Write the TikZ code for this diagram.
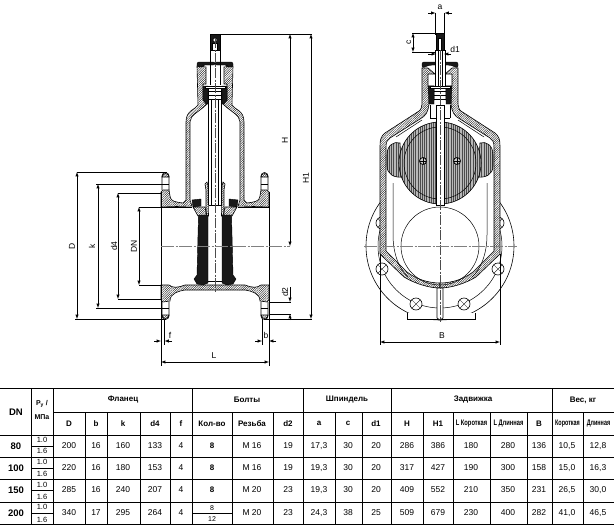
\documentclass[tikz,border=0pt]{standalone}
\usepackage{fontspec}
\setmainfont{Liberation Sans}
\usetikzlibrary{patterns.meta}
\tikzstyle{outline} = [draw, line width=0.6pt, fill=white]
\tikzstyle{hatch} = [draw, line width=0.6pt, pattern={Lines[angle=45,distance=1.6pt,line width=0.35pt]}, pattern color=black]
\tikzstyle{solid} = [draw, fill=black!90]
\tikzstyle{stripes} = [draw, line width=0.6pt, preaction={fill=black!28}, pattern={Lines[angle=90,distance=2.2pt,line width=0.7pt]}, pattern color=black!70]
\tikzstyle{thinline} = [draw, line width=0.5pt]
\tikzstyle{dimline} = [draw, line width=0.5pt, latex-latex]
\tikzstyle{arrow} = [draw, line width=0.5pt, -latex]
\tikzstyle{axisline} = [draw, line width=0.9pt, black!50, dash pattern=on 13pt off 1.5pt on 2pt off 1.5pt]
\tikzstyle{axisthin} = [draw, line width=0.4pt, black!70, dash pattern=on 10pt off 1.5pt on 2pt off 1.5pt]
\tikzstyle{rule} = [draw, line width=0.7pt]
\tikzstyle{dimtext} = [inner sep=0pt, font=\fontsize{8.5}{10}\selectfont]
\tikzstyle{dimtextR} = [dimtext, rotate=90]
\tikzstyle{head} = [inner sep=0pt, font=\fontsize{8}{9}\selectfont\bfseries]
\tikzstyle{headS} = [inner sep=0pt, font=\fontsize{7}{8}\selectfont\bfseries]
\tikzstyle{dncell} = [inner sep=0pt, font=\fontsize{9.5}{10}\selectfont\bfseries]
\tikzstyle{numcell} = [inner sep=0pt, font=\fontsize{8.5}{10}\selectfont]
\tikzstyle{smallcell} = [inner sep=0pt, font=\fontsize{7.5}{9}\selectfont]
\begin{document}
\begin{tikzpicture}[x=1pt, y=-1pt]
    \useasboundingbox (0,0) rectangle (614,525);

    % side view, section
    \foreach \m in {1,-1} {
    \begin{scope}[shift={(215,0)}, xscale=\m]
        % bolts on the flange
        \path [outline] (-53,190) -- (-53,176) arc (180:360:3.5) -- (-46,190);
        \path [hatch] (-53,177) arc (180:360:3.5) -- cycle;
        \path [thinline] (-53,184) -- (-46,184);
        \path [outline] (-53,302) -- (-53,316) arc (180:0:3.5) -- (-46,302);
        \path [hatch] (-53,315) arc (180:0:3.5) -- cycle;
        \path [thinline] (-53,308) -- (-46,308);
        % bonnet wall
        \path [hatch] (-18,66) -- (-17,105) .. controls (-20,110) and (-29,110) .. (-29,122) -- (-29,200)
            -- (-32,203) .. controls (-38,202) and (-45,202) .. (-45,196) -- (-46,190) -- (-52,190) -- (-54,192) -- (-54,207)
            -- (-23,206) -- (-25,200) -- (-25,122) .. controls (-25,115) and (-16,112) .. (-8,104) -- (-8,100)
            -- (-12,100) -- (-12,84) -- (-9,84) -- (-9,67) -- cycle;
        % cap and gland
        \path [solid, rounded corners=2pt] (-18,67) -- (-18,62) -- (0,62) -- (0,65) -- (-12,65) -- (-12,67) -- cycle;
        \path [solid] (-12,86) -- (-7,86) -- (-7,104) -- (-9,104) -- (-12,100) -- cycle;
        % body floor
        \path [hatch] (0,290) -- (-30,290) .. controls (-36,291) and (-45,293) .. (-45,301) -- (-52,302) -- (-54,300)
            -- (-54,285) -- (-46,285) .. controls (-42,288) and (-38,288) .. (-30,285) -- (0,285);
        % gate
        \path [solid] (-23,200) -- (-14,199) -- (-14,206) -- (-22,207) -- cycle;
        \path [hatch] (-22,207) -- (-10,207) -- (-8,216) -- (-17,216) -- cycle;
        \path [hatch] (-10,184) -- (-8,182) -- (-7,186) -- (-6.5,216) -- (-9,216) -- (-9,190) -- cycle;
        \path [solid] (-16.5,215) -- (-7,215) -- (-7,283) -- (-12,285) -- (-18,284) -- (-21,279) -- (-18,275) -- cycle;
        % spindle
        \path [thinline, line width=1pt] (-6.5,88) -- (-6.5,205);
        \path [thinline] (-3.5,100) -- (-3.5,205);
        \path [thinline] (-5,50) -- (-5,85);
        % bore
        \path [thinline] (-54,207) -- (-23,207);
        % face of flange and dimension stops
        \path [thinline] (-54,192) -- (-54,366);
    \end{scope}
    }
    \path [thinline] (208.5,205) -- (221.5,205);
    \path [thinline] (208,281) -- (222,281);
    \path [outline] (205,86) rectangle (225,88);
    \foreach \yy in {91,95,99} \path [thinline] (209,\yy) -- (221,\yy);
    % head of spindle
    \path [solid] (210,34) rectangle (220,50);
    \path [outline] (212.5,43) rectangle (217.5,50);
    \path [outline] (215,40) circle (2);
    \path [axisthin] (215,38) -- (215,293);
    \path [axisline] (161,246) -- (290,246);

    % end view, flange behind the body
    \path [draw, line width=0.6pt] (440,246) circle (74);
    \path [thinline] (440,246) circle (62);
    \foreach \bx/\by in {382/223,498/223,382/269,498/269,416/304,464/304} {
        \path [outline] (\bx,\by) circle (6);
        \path [draw, line width=0.35pt] (\bx-4,\by+4) -- (\bx+4,\by-4) (\bx-4,\by-4) -- (\bx+4,\by+4);
    }
    \path [outline] (407,313) -- (407,319) -- (475,319) -- (475,313);
    \foreach \m in {1,-1} {
    \begin{scope}[shift={(440,0)}, xscale=\m]
        % inside of the body
        \path [fill=white] (-60,146) -- (-60,254) -- (-36,277) .. controls (-26,283) and (-12,288) .. (0,288) -- (0,112) -- (-24,113) -- (-55,133) -- cycle;
    \end{scope}
    }
    \path [thinline] (440,246) circle (39);
    \foreach \m in {1,-1} {
    \begin{scope}[shift={(440,0)}, xscale=\m]
        % gate with lugs
        \path [stripes] (-40,143) .. controls (-46,141) and (-53,145) .. (-53,155) -- (-53,166)
            .. controls (-53,174) and (-46,178) .. (-38,177) -- cycle;
        % guide
        \path [thinline] (-47,183) -- (-47,235) .. controls (-47,255) and (-40,270) .. (-32,277);
        \path [thinline] (-44,137) -- (-18,120);
        % body wall
        \path [hatch] (-18,68) -- (-18,104) .. controls (-19,110) .. (-24,113) -- (-55,133)
            .. controls (-59,136) and (-60,140) .. (-60,146) -- (-60,254) -- (-36,277)
            .. controls (-26,283) and (-12,288) .. (0,288) -- (0,283) .. controls (-12,283) and (-24,279) .. (-33,272)
            -- (-54,251) -- (-54,148) .. controls (-54,142) and (-53,140) .. (-50,138) -- (-20,119)
            .. controls (-14,116) and (-12,112) .. (-11,104) -- (-11,100) -- (-6,100) -- (-6,86) -- (-12,86) -- (-12,74) -- (-5,74) -- (-12,68) -- cycle;
        \path [solid, rounded corners=2pt] (-18,68) -- (-18,62) -- (0,62) -- (0,65) -- (-10,65) -- cycle;
        \path [solid] (-12,86) -- (-6,86) -- (-6,104) -- (-11,104) -- cycle;
        % neck
        \path [thinline] (-10,105) -- (-10,118);
        \path [thinline] (-5,50) -- (-5,86);
    \end{scope}
    }
    % spindle, end view
    \path [outline] (435,50) rectangle (445,86);
    \path [thinline] (438,50) -- (438,86) (442,50) -- (442,86);
    \path [solid] (436,33) rectangle (444,50);
    \path [outline] (438.5,38) -- (438.5,50) -- (441.5,50) -- (441.5,38) -- cycle;
    \path [outline] (430,86) rectangle (450,88);
    \foreach \yy in {91,95,99} \path [thinline] (434,\yy) -- (446,\yy);
    \path [thinline] (430,118) -- (450,118);
    % disc
    \path [stripes] (440,163) circle (41);
    \path [thinline] (440,163) circle (36);
    \path [outline] (436,105) rectangle (444,205);
    \path [draw, line width=0.8pt, dash pattern=on 1pt off 1pt] (436,118) -- (436,205) (444,118) -- (444,205);
    \foreach \bx in {423,457} {
        \path [draw, fill=black!20, line width=0.8pt] (\bx,161) circle (3.5);
        \path [thinline] (\bx-3,161) -- (\bx+3,161) (\bx,158) -- (\bx,164);
    }
    % rib
    \path [outline] (437,288) -- (437,318) -- (440,320) -- (443,318) -- (443,288) -- cycle;
    \path [axisthin] (440,50) -- (440,322);
    \path [axisline] (364,246) -- (517,246);

    % dimensions, side view
    \coordinate (topH) at (220,34);
    \coordinate (endH) at (312,34);
    \path [thinline] (topH) -- (endH);
    \path [dimline] (290,34) -- (290,246);
    \path [dimline] (311,34) -- (311,319);
    \path [thinline] (75,319) -- (166,319) (264,319) -- (312,319);
    \path [thinline] (77,172) -- (167,172);
    \path [dimline] (77,172) -- (77,319);
    \path [thinline] (96,184) -- (167,184) (96,308) -- (167,308);
    \path [dimline] (98,184) -- (98,308);
    \path [thinline] (118,193) -- (161,193) (118,299) -- (161,299);
    \path [dimline] (118,193) -- (118,299);
    \path [thinline] (139,207) -- (161,207) (139,285) -- (161,285);
    \path [dimline] (139,207) -- (139,285);
    \path [thinline] (270,302) -- (291,302) (270,314) -- (291,314);
    \path [arrow] (290,287) -- (290,302);
    \path [arrow] (290,320) -- (290,314);
    \path [thinline] (164.5,319) -- (164.5,345) (262,319) -- (262,345);
    \path [dimline] (161,362) -- (269,362);
    \path [arrow] (154,341) -- (161,341);
    \path [arrow] (172,341) -- (164.5,341);
    \path [arrow] (255,341) -- (262,341);
    \path [arrow] (276,341) -- (269,341);
    \node [dimtextR] (lblD) at (72,246) {D};
    \node [dimtextR] (lblk) at (92,246) {k};
    \node [dimtextR] (lbldf) at (114,246) {d4};
    \node [dimtextR] (lblDN) at (134,246) {DN};
    \node [dimtextR] (lblH) at (285,140) {H};
    \node [dimtextR] (lblHo) at (306,178) {H1};
    \node [dimtextR] (lbldt) at (285,292) {d2};
    \node [dimtext] (lblf) at (170,335) {f};
    \node [dimtext] (lblb) at (266,335) {b};
    \node [dimtext] (lblL) at (214,356) {L};

    % dimensions, end view
    \path [thinline] (435.5,13) -- (435.5,35) (444.5,13) -- (444.5,35);
    \path [arrow] (428,13) -- (435.5,13);
    \path [arrow] (452,13) -- (444.5,13);
    \path [thinline] (412,33) -- (437,33) (412,52) -- (436,52);
    \path [dimline] (413,33) -- (413,52);
    \path [arrow] (428,54) -- (436,54);
    \path [arrow] (451,54) -- (444,54);
    \path [thinline] (380,254) -- (380,345) (500,254) -- (500,345);
    \path [dimline] (380,342) -- (500,342);
    \node [dimtext] (lbla) at (440,7) {a};
    \node [dimtextR] (lblc) at (409,42) {c};
    \node [dimtext] (lbldo) at (455,49) {d1};
    \node [dimtext] (lblB) at (442,336) {B};

    % table rules
    \foreach \yy in {388,435,457,479,502,524} \path [rule] (0,\yy) -- (614,\yy);
    \path [rule] (53,412) -- (614,412);
    \foreach \xx in {31,53,192,303,391,552} \path [rule] (\xx,388) -- (\xx,524);
    \foreach \xx in {85,107,140,170,232,273,335,362,423,453,490,527,583} \path [rule] (\xx,412) -- (\xx,524);
    \foreach \yy in {446,468,490,513} \path [rule] (31,\yy) -- (53,\yy);
    \path [rule] (192,513) -- (232,513);

    % table head
    \node [dncell] (hDN) at (16,412) {DN};
    \node [headS] (hPy) at (42,404) {P\textsubscript{y} /};
    \node [headS] (hMPa) at (42,417) {МПа};
    \foreach \xx/\tx in {123/Фланец,247/Болты,347/Шпиндель,473/Задвижка,583/{Вес, кг}}
        \node [head] (top\xx) at (\xx,400) {\tx};
    \foreach \xx/\tx in {69/D,96/b,123/k,155/d4,181/f,212/Кол-во,252/Резьба,288/d2,319/a,348/c,376/d1,407/H,438/H1,539/B}
        \node [head] (sub\xx) at (\xx,423.5) {\tx};
    \node [head] (subLK) at (471.5,423.5) {\scalebox{0.72}[1]{L Короткая}};
    \node [head] (subLD) at (508.5,423.5) {\scalebox{0.72}[1]{L Длинная}};
    \node [head] (subVK) at (567.5,423.5) {\scalebox{0.68}[1]{Короткая}};
    \node [head] (subVD) at (598.5,423.5) {\scalebox{0.68}[1]{Длинная}};

    % table rows
    \foreach \dn/\ya/\yc/\yb in {80/440/446/451, 100/462/468/474, 150/485/490/497, 200/507/513/520} {
        \node [dncell] (dn\dn) at (16,\yc) {\dn};
        \node [smallcell] (pa\dn) at (42,\ya) {1.0};
        \node [smallcell] (pb\dn) at (42,\yb) {1.6};
    }
    \foreach \xx/\tx in {69/200,96/16,123/160,155/133,181/4,252/M 16,288/19,319/{17,3},348/30,376/20,407/286,438/386,471/180,508/280,539/136,567/{10,5},598/{12,8}}
        \node [numcell] (a\xx) at (\xx,446) {\tx};
    \foreach \xx/\tx in {69/220,96/16,123/180,155/153,181/4,252/M 16,288/19,319/{19,3},348/30,376/20,407/317,438/427,471/190,508/300,539/158,567/{15,0},598/{16,3}}
        \node [numcell] (b\xx) at (\xx,468) {\tx};
    \foreach \xx/\tx in {69/285,96/16,123/240,155/207,181/4,252/M 20,288/23,319/{19,3},348/30,376/20,407/409,438/552,471/210,508/350,539/231,567/{26,5},598/{30,0}}
        \node [numcell] (c\xx) at (\xx,490) {\tx};
    \foreach \xx/\tx in {69/340,96/17,123/295,155/264,181/4,252/M 20,288/23,319/{24,3},348/38,376/25,407/509,438/679,471/230,508/400,539/282,567/{41,0},598/{46,5}}
        \node [numcell] (d\xx) at (\xx,513) {\tx};
    \foreach \yy in {446,468,490} \node [head] (bolt\yy) at (212,\yy) {8};
    \node [smallcell, font=\fontsize{7}{8}\selectfont] (boltA) at (212,508) {8};
    \node [smallcell, font=\fontsize{7}{8}\selectfont] (boltB) at (212,519.5) {12};
\end{tikzpicture}
\end{document}
